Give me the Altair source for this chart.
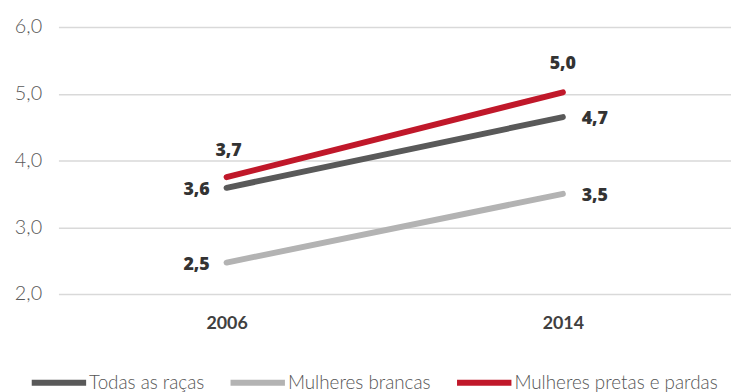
import altair as alt
import pandas as pd

years = ["2006", "2014"]
series = ["Todas as raças", "Mulheres brancas", "Mulheres pretas e pardas"]
todas = [3.59, 4.65]
brancas = [2.47, 3.50]
pretas = [3.75, 5.02]
labels_todas = ["3,6", "4,7"]
labels_brancas = ["2,5", "3,5"]
labels_pretas = ["3,7", "5,0"]

rows = []
for s, vals, labs in [(series[0], todas, labels_todas), (series[1], brancas, labels_brancas), (series[2], pretas, labels_pretas)]:
    for y, v, l in zip(years, vals, labs):
        rows.append({"ano": y, "serie": s, "valor": v, "rotulo": l})
df = pd.DataFrame(rows)

colors = ["#595959", "#b3b3b3", "#c0182a"]
light_font = "Lato"
bold_font = "Open Sans"

base = alt.Chart(df)

x = alt.X("ano:N", title=None,
          scale=alt.Scale(paddingInner=1, paddingOuter=0.5),
          axis=alt.Axis(labelAngle=0, domain=False, ticks=False, grid=False,
                        labelFont="Lato", labelFontWeight=700, labelFontSize=18,
                        labelColor="#404040", labelPadding=21))
y = alt.Y("valor:Q", title=None,
          scale=alt.Scale(domain=[2, 6], nice=False, zero=False),
          axis=alt.Axis(values=[2, 3, 4, 5, 6], domain=False, ticks=False,
                        labelExpr="replace(format(datum.value, '.1f'), '.', ',')",
                        labelFont=light_font, labelFontWeight=300, labelFontSize=20,
                        labelColor="#595959", labelPadding=17,
                        gridColor="#d9d9d9", gridWidth=1.5))

lines = base.mark_line(strokeWidth=6, strokeCap="round").encode(
    x=x, y=y,
    color=alt.Color("serie:N", scale=alt.Scale(domain=series, range=colors),
                    sort=series,
                    legend=alt.Legend(title=None, orient="none", direction="horizontal",
                                      legendX=-30, legendY=329,
                                      symbolType="stroke", symbolSize=3025,
                                      symbolStrokeWidth=6,
                                      labelFont=light_font, labelFontWeight=300,
                                      labelFontSize=19, labelColor="#555555",
                                      labelLimit=400,
                                      labelOffset=0, columnPadding=14)),
)

def txt(filt, **kw):
    return base.transform_filter(filt).mark_text(
        font=bold_font, fontWeight=800, fontSize=18, color="#333333",
        baseline="middle", **kw
    ).encode(x="ano:N", y="valor:Q", text="rotulo:N")

t1 = txt("datum.ano == '2006' && datum.serie != 'Mulheres pretas e pardas'", align="right", dx=-17, dy=2)
t2 = txt("datum.ano == '2006' && datum.serie == 'Mulheres pretas e pardas'", align="center", dx=2, dy=-26)
t3 = txt("datum.ano == '2014' && datum.serie == 'Mulheres pretas e pardas'", align="center", dx=0, dy=-29)
t4 = txt("datum.ano == '2014' && datum.serie != 'Mulheres pretas e pardas'", align="left", dx=19, dy=2)

chart = alt.layer(lines, t1, t2, t3, t4).properties(
    width=680, height=270,
    autosize=alt.AutoSizeParams(type="none"),
    padding={"left": 51, "top": 17, "right": 0, "bottom": 97},
).configure(background="white").configure_view(stroke=None)

chart.save("out.html", embed_options={"renderer": "svg", "actions": False})
